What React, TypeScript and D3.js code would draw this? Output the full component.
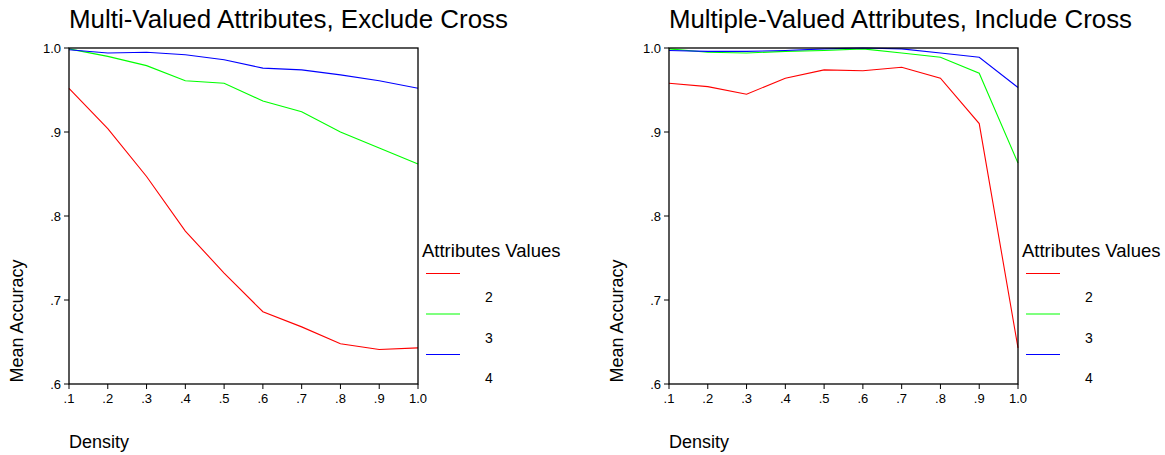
import * as d3 from 'd3';

const density = [0.1, 0.2, 0.3, 0.4, 0.5, 0.6, 0.7, 0.8, 0.9, 1.0];
const xTicks = ['.1', '.2', '.3', '.4', '.5', '.6', '.7', '.8', '.9', '1.0'];
const yTickValues = [0.6, 0.7, 0.8, 0.9, 1.0];
const yTicks = ['.6', '.7', '.8', '.9', '1.0'];

// Exclude Cross
const excludeTwo = [0.952, 0.904, 0.847, 0.782, 0.732, 0.686, 0.668, 0.648, 0.641, 0.643];
const excludeThree = [0.999, 0.990, 0.979, 0.961, 0.958, 0.937, 0.924, 0.900, 0.881, 0.862];
const excludeFour = [0.998, 0.994, 0.995, 0.992, 0.986, 0.976, 0.974, 0.968, 0.961, 0.952];

// Include Cross
const includeTwo = [0.958, 0.954, 0.945, 0.964, 0.974, 0.973, 0.977, 0.964, 0.910, 0.643];
const includeThree = [0.999, 0.995, 0.994, 0.996, 0.997, 0.999, 0.994, 0.989, 0.970, 0.863];
const includeFour = [0.997, 0.996, 0.996, 0.997, 0.999, 1.0, 0.999, 0.994, 0.989, 0.953];

const legendLabels = ['2', '3', '4'];
const colors = ['#ff0000', '#00ff00', '#0000ff'];

const font = 'Arial, "Liberation Sans", sans-serif';

function Panel({ left, title, titleWidth, series }: { left: number; title: string; titleWidth: number; series: number[][] }) {
  const top = 48;
  const bottom = 384;
  const width = 349;
  const x = d3.scaleLinear().domain([0.1, 1.0]).range([left, left + width]);
  const y = d3.scaleLinear().domain([0.6, 1.0]).range([bottom, top]);
  const line = d3.line<number>()
    .x((_, i) => x(density[i]))
    .y(d => y(d));

  const legendX = left + width + 5;

  return (
    <g fontFamily={font}>
      <text x={left} y={28} fontSize={26} textLength={titleWidth} lengthAdjust="spacingAndGlyphs">{title}</text>

      {series.map((s, i) => (
        <path key={i} d={line(s) ?? ''} fill="none" stroke={colors[i]} strokeWidth={1.1} />
      ))}

      <rect x={left} y={top} width={width} height={bottom - top} fill="none" stroke="#000" strokeWidth={1.3} />

      {yTickValues.map((v, i) => (
        <g key={v}>
          <line x1={left - 5} x2={left} y1={y(v)} y2={y(v)} stroke="#000" />
          <text x={left - 8} y={y(v) + 5} fontSize={13} textAnchor="end">{yTicks[i]}</text>
        </g>
      ))}

      {density.map((v, i) => (
        <g key={v}>
          <line x1={x(v)} x2={x(v)} y1={bottom} y2={bottom + 5} stroke="#000" />
          <text x={x(v)} y={403} fontSize={13} textAnchor="middle">{xTicks[i]}</text>
        </g>
      ))}

      <text
        transform={`translate(${left - 46},${(top + bottom) / 2 + 105}) rotate(-90)`}
        fontSize={18}
        textAnchor="middle"
      >Mean Accuracy</text>
      <text x={left} y={448} fontSize={18}>Density</text>

      <text x={legendX - 1} y={257} fontSize={18.5}>Attributes Values</text>
      {colors.map((c, i) => (
        <g key={c}>
          <line x1={legendX + 3} x2={legendX + 37} y1={273.5 + i * 40.5} y2={273.5 + i * 40.5} stroke={c} strokeWidth={1.2} />
          <text x={legendX + 66} y={302 + i * 40.5} fontSize={14} textAnchor="middle">{legendLabels[i]}</text>
        </g>
      ))}
    </g>
  );
}

export default function App() {
  return (
    <svg width={1165} height={455} style={{ position: 'absolute', left: 0, top: 0, background: '#fff' }}>
      <Panel left={69} title="Multi-Valued Attributes, Exclude Cross" titleWidth={439} series={[excludeTwo, excludeThree, excludeFour]} />
      <Panel left={669} title="Multiple-Valued Attributes, Include Cross" titleWidth={463} series={[includeTwo, includeThree, includeFour]} />
    </svg>
  );
}
